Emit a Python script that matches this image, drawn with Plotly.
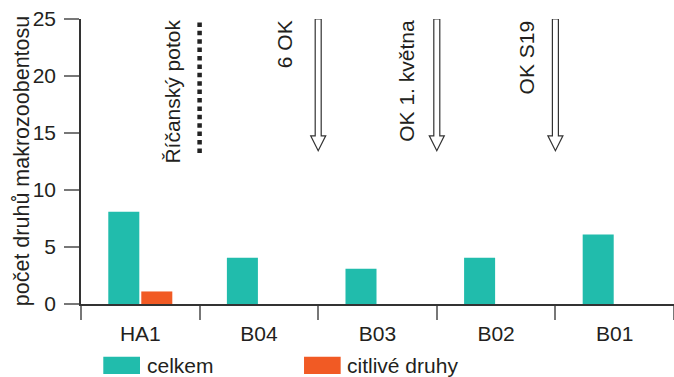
import plotly.graph_objects as go

# ---- data ----
categories = ["HA1", "B04", "B03", "B02", "B01"]
celkem = [8.1, 4.05, 3.1, 4.05, 6.1]
citlive = [1.1, 0, 0, 0, 0]
series_names = ["celkem", "citlivé druhy"]
y_ticks = [0, 5, 10, 15, 20, 25]
y_title = "počet druhů makrozoobentosu"
# markers placed at category boundaries (index of boundary)
markers = [
    {"label": "Říčanský potok", "pos": 0.5, "kind": "dots", "shift": -28},
    {"label": "6 OK", "pos": 1.5, "kind": "arrow", "shift": -34},
    {"label": "OK 1. května", "pos": 2.5, "kind": "arrow", "shift": -31},
    {"label": "OK S19", "pos": 3.5, "kind": "arrow", "shift": -29},
]

TEAL = "#21BCAC"
ORANGE = "#F15A24"
TXT = "#231F20"
FONT = "Liberation Sans, Arial, sans-serif"
FS = 21

fig = go.Figure()
fig.add_trace(go.Bar(x=categories, y=celkem, name=series_names[0],
                     marker=dict(color=TEAL, line=dict(width=0))))
fig.add_trace(go.Bar(x=categories, y=citlive, name=series_names[1],
                     marker=dict(color=ORANGE, line=dict(width=0))))

shapes = []
annotations = []
for m in markers:
    if m["kind"] == "dots":
        shapes.append(dict(type="line", xref="x", yref="y",
                           x0=m["pos"], x1=m["pos"], y0=24.7, y1=13.05,
                           line=dict(color="#222222", width=4.5, dash="4.5px,3.9px")))
    else:
        path = ("M -3,25 L 3,25 L 3,14.75 L 7.5,14.75 L 0,13.45 "
                "L -7.5,14.75 L -3,14.75 Z")
        shapes.append(dict(type="path", xref="x", yref="y", xsizemode="pixel",
                           xanchor=m["pos"], path=path, fillcolor="white",
                           line=dict(color="#333333", width=1.2)))
    annotations.append(dict(text=m["label"], xref="x", yref="y", x=m["pos"], y=25,
                            xshift=m["shift"], yshift=1, textangle=-90,
                            xanchor="center", yanchor="top", showarrow=False,
                            font=dict(family=FONT, size=FS, color=TXT)))

# y-axis title
annotations.append(dict(text=y_title, xref="paper", yref="paper", x=-0.1, y=0.5,
                        textangle=-90, xanchor="center", yanchor="middle",
                        showarrow=False, font=dict(family=FONT, size=21.5, color=TXT)))

# custom legend
leg = [(series_names[0], TEAL, 0.0376, 0.0995, 0.1079),
       (series_names[1], ORANGE, 0.3761, 0.4379, 0.4460)]
for name, col, xa, xb, xt in leg:
    shapes.append(dict(type="rect", xref="paper", yref="paper", x0=xa, x1=xb,
                       y0=-0.2456, y1=-0.1849, fillcolor=col, line=dict(width=0)))
    annotations.append(dict(text=name, xref="paper", yref="paper", x=xt, y=-0.2175,
                            xanchor="left", yanchor="middle", showarrow=False,
                            font=dict(family=FONT, size=FS, color=TXT)))

fig.update_layout(
    width=674, height=377,
    margin=dict(l=81, r=0, t=19, b=73),
    plot_bgcolor="white", paper_bgcolor="white",
    barmode="group", bargap=0.4435, bargroupgap=0.06,
    showlegend=False,
    font=dict(family=FONT, size=FS, color=TXT),
    shapes=shapes, annotations=annotations,
    xaxis=dict(type="category", showline=True, linecolor="#333333", linewidth=1.5,
               ticks="outside", tickson="boundaries", ticklen=14, tickwidth=1.5,
               tickcolor="#777777", showgrid=False, zeroline=False,
               ticklabelstandoff=10,
               tickfont=dict(family=FONT, size=FS, color=TXT)),
    yaxis=dict(range=[0, 25], tickvals=y_ticks, showline=True, linecolor="#333333",
               linewidth=1.5, ticks="outside", ticklen=15, tickwidth=1.5,
               tickcolor="#777777", showgrid=False, zeroline=False,
               ticklabelstandoff=4,
               tickfont=dict(family=FONT, size=FS, color=TXT)),
)

fig.write_html("out.html", config={"displayModeBar": False},
               post_script="document.body.style.margin='0';document.body.style.padding='0';")
